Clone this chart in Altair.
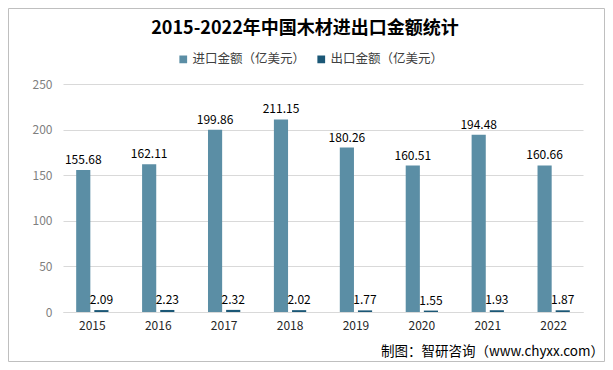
import altair as alt
import pandas as pd

years = ["2015", "2016", "2017", "2018", "2019", "2020", "2021", "2022"]
imports = [155.68, 162.11, 199.86, 211.15, 180.26, 160.51, 194.48, 160.66]
exports = [2.09, 2.23, 2.32, 2.02, 1.77, 1.55, 1.93, 1.87]
series = ["进口金额（亿美元）", "出口金额（亿美元）"]
colors = ["#5b8ea5", "#1b5776"]
y_ticks = [0, 50, 100, 150, 200, 250]
title_text = "2015-2022年中国木材进出口金额统计"
footer_text = "制图：智研咨询（www.chyxx.com）"

rows = []
for yr, a, b in zip(years, imports, exports):
    rows.append({"year": yr, "series": series[0], "value": a, "label": f"{a:.2f}"})
    rows.append({"year": yr, "series": series[1], "value": b, "label": f"{b:.2f}"})
df = pd.DataFrame(rows)

FONT = "Noto Sans CJK SC"
W, H = 520, 228
PL, PT, PR, PB = 55, 76, 22, 50

x = alt.X("year:N", sort=years,
          scale=alt.Scale(paddingInner=0.51),
          axis=alt.Axis(title=None, labelAngle=0, domainColor="#d9d9d9", ticks=False,
                        labelColor="#262626", labelFontSize=12, labelPadding=8,
                        labelFont=FONT))
xo = alt.XOffset("series:N", sort=series, scale=alt.Scale(paddingInner=0.22))
y = alt.Y("value:Q", scale=alt.Scale(domain=[0, 250]),
          axis=alt.Axis(values=y_ticks, title=None, domain=False, ticks=False,
                        gridColor="#d9d9d9", labelColor="#7f7f7f", labelFontSize=12,
                        labelPadding=11, labelFont=FONT))
color = alt.Color("series:N", sort=series,
                  scale=alt.Scale(domain=series, range=colors),
                  legend=alt.Legend(orient="none", legendX=114, legendY=-31,
                                    direction="horizontal", title=None,
                                    symbolType="square", symbolSize=60,
                                    symbolStrokeWidth=0,
                                    labelFontSize=12.5, labelColor="#404040",
                                    labelFont=FONT, columnPadding=9, labelOffset=3))

base = alt.Chart(df)
bars = base.mark_bar().encode(x=x, xOffset=xo, y=y, color=color)
labels = base.mark_text(dy=-10, fontSize=12, font=FONT, color="#000000").encode(
    x=x, xOffset=xo, y=y, text="label:N")

one = pd.DataFrame({"k": [0]})
title = alt.Chart(one).mark_text(text=title_text, fontSize=18, fontWeight="bold",
                                 font=FONT, color="#000000").encode(
    x=alt.value(242), y=alt.value(-55))
footer = alt.Chart(one).mark_text(text=footer_text, fontSize=13.5, font=FONT,
                                  align="right", color="#000000").encode(
    x=alt.value(541), y=alt.value(268))
border = alt.Chart(one).mark_rect(fill=None, stroke="#bfbfbf", strokeWidth=1).encode(
    x=alt.value(-PL + 0.5), x2=alt.value(W + PR - 0.5),
    y=alt.value(-PT + 0.5), y2=alt.value(H + PB - 0.5))

chart = alt.layer(border, bars, labels, title, footer).properties(
    width=W, height=H,
    autosize=alt.AutoSizeParams(type="none"),
    padding={"left": PL, "top": PT, "right": PR, "bottom": PB},
    background="#ffffff",
).configure_view(stroke=None)

chart.save("out.html", embed_options={"renderer": "svg", "actions": False})
